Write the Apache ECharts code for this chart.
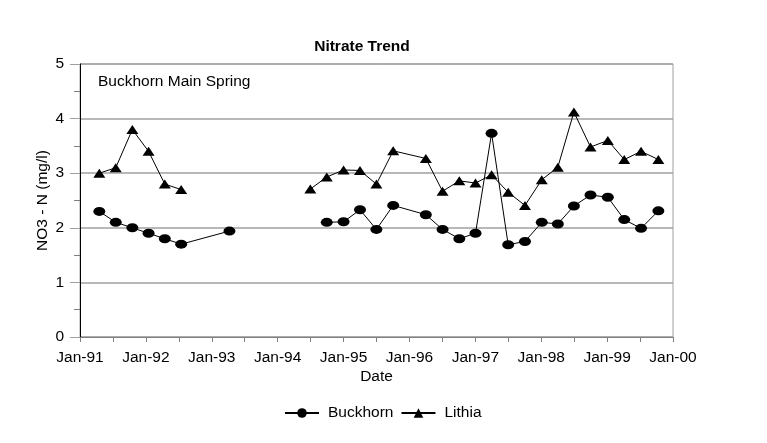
<!DOCTYPE html>
<html>
<head>
<meta charset="utf-8">
<script src="https://cdn.jsdelivr.net/npm/echarts@6/dist/echarts.min.js"></script>
<style>
html,body{margin:0;padding:0;background:#fff;}
#chart{width:767px;height:443px;}
</style>
</head>
<body>
<div id="chart"></div>
<script>
// Sample dates
const dates = [
  '1991-04-18','1991-07-18','1991-10-18','1992-01-16','1992-04-15','1992-07-15',
  '1993-04-09','1994-07-01','1994-09-30','1995-01-01','1995-04-02','1995-07-02',
  '1995-10-03','1996-04-01','1996-07-03','1996-10-04','1997-01-02','1997-04-01',
  '1997-07-02','1997-10-03','1998-01-04','1998-04-03','1998-07-01','1998-10-01',
  '1999-01-05','1999-04-06','1999-07-08','1999-10-12'
];
const buckhorn = [
  2.30, 2.10, 2.00, 1.90, 1.80, 1.70,
  1.94, null, 2.10, 2.11, 2.33, 1.97,
  2.41, 2.24, 1.97, 1.80, 1.90, 3.73,
  1.69, 1.75, 2.10, 2.07, 2.40, 2.60,
  2.56, 2.15, 1.99, 2.31
];
const lithia = [
  3.00, 3.10, 3.80, 3.40, 2.80, 2.70,
  null, 2.71, 2.93, 3.06, 3.05, 2.80,
  3.41, 3.27, 2.67, 2.86, 2.82, 2.97,
  2.65, 2.41, 2.88, 3.11, 4.12, 3.48,
  3.60, 3.25, 3.40, 3.25
];
const xTickYears = [1991, 1992, 1993, 1994, 1995, 1996, 1997, 1998, 1999, 2000];
const yTicks = [0, 1, 2, 3, 4, 5];

function decYear(s) {
  const p = s.split('-').map(Number);
  const start = Date.UTC(p[0], 0, 1);
  const end = Date.UTC(p[0] + 1, 0, 1);
  const d = Date.UTC(p[0], p[1] - 1, p[2]);
  return p[0] + (d - start) / (end - start);
}
const xs = dates.map(decYear);
const pairs = arr => xs.map((x, i) => [x, arr[i]]);

const FONT = '"Liberation Sans", Arial, sans-serif';
const FS = 15.5;
const chart = echarts.init(document.getElementById('chart'));
chart.setOption({
  animation: false,
  textStyle: { fontFamily: FONT, color: '#000' },
  title: {
    text: 'Nitrate Trend',
    left: 362, top: 39, textAlign: 'center', padding: 0,
    textStyle: { fontFamily: FONT, fontSize: FS, fontWeight: 'bold', color: '#000' }
  },
  grid: {
    left: 80, right: 94, top: 64, bottom: 106,
    show: true, borderColor: '#a0a0a0', borderWidth: 1, backgroundColor: 'transparent'
  },
  graphic: [{
    type: 'text', left: 98, top: 74,
    style: { text: 'Buckhorn Main Spring', font: FS + 'px ' + FONT, fill: '#000' }
  }],
  legend: {
    left: 284, top: 405, padding: 0,
    itemWidth: 34, itemHeight: 12, itemGap: 7,
    textStyle: { fontFamily: FONT, fontSize: FS, color: '#000', padding: [0, 0, 0, 4] },
    data: ['Buckhorn', 'Lithia']
  },
  xAxis: {
    type: 'value',
    min: xTickYears[0], max: xTickYears[xTickYears.length - 1], interval: 1,
    name: 'Date', nameLocation: 'middle', nameGap: 32, nameMoveOverlap: false,
    nameTextStyle: { fontFamily: FONT, fontSize: FS, color: '#000' },
    axisLine: { lineStyle: { color: '#808080', width: 1 } },
    axisTick: { show: true, length: 5, lineStyle: { color: '#808080' } },
    minorTick: { show: true, splitNumber: 2, length: 5, lineStyle: { color: '#808080' } },
    splitLine: { show: false },
    axisLabel: {
      margin: 13, fontFamily: FONT, fontSize: FS, color: '#000',
      formatter: v => 'Jan-' + String(Math.round(v) % 100).padStart(2, '0')
    }
  },
  yAxis: {
    type: 'value',
    min: yTicks[0], max: yTicks[yTicks.length - 1], interval: 1,
    name: 'NO3 - N (mg/l)', nameLocation: 'middle', nameGap: 29, nameMoveOverlap: false,
    nameTextStyle: { fontFamily: FONT, fontSize: FS, color: '#000' },
    axisLine: { show: true, lineStyle: { color: '#000', width: 1 } },
    axisTick: { show: true, length: 10, lineStyle: { color: '#a0a0a0' } },
    minorTick: { show: true, splitNumber: 2, length: 6, lineStyle: { color: '#808080' } },
    splitLine: { show: true, lineStyle: { color: '#a0a0a0', width: 1.5 } },
    axisLabel: { margin: 16, fontFamily: FONT, fontSize: FS, color: '#000' }
  },
  series: [
    {
      name: 'Buckhorn', type: 'line', data: pairs(buckhorn),
      symbol: 'circle', symbolSize: [12, 9],
      lineStyle: { color: '#000', width: 1 },
      itemStyle: { color: '#000' },
      connectNulls: false
    },
    {
      name: 'Lithia', type: 'line', data: pairs(lithia),
      symbol: 'triangle', symbolSize: [12, 9],
      lineStyle: { color: '#000', width: 1 },
      itemStyle: { color: '#000' },
      connectNulls: false
    }
  ]
});
</script>
</body>
</html>
